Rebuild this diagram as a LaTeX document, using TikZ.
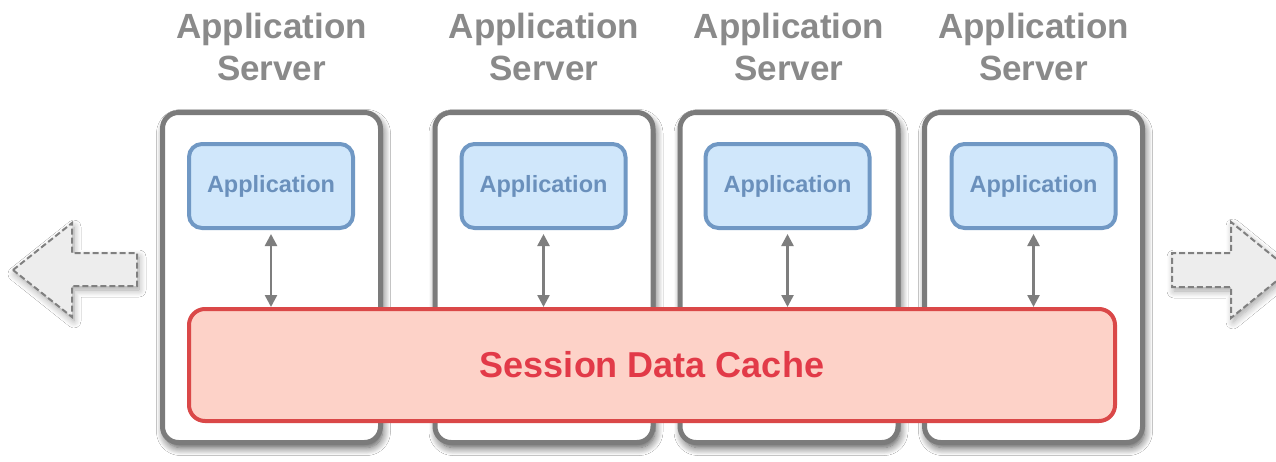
\documentclass[tikz,border=0pt]{standalone}
\usepackage{fontspec}
\setmainfont{Liberation Sans}
\usetikzlibrary{arrows.meta,shadows.blur}
\definecolor{srvline}{HTML}{7B7B7B}
\definecolor{lbl}{HTML}{8A8A8A}
\definecolor{appfill}{HTML}{D0E7FB}
\definecolor{appline}{HTML}{7098C4}
\definecolor{apptext}{HTML}{6A90BC}
\definecolor{cachefill}{HTML}{FDD2C8}
\definecolor{cacheline}{HTML}{DA4848}
\definecolor{cachetext}{HTML}{E23A48}
\definecolor{arrfill}{HTML}{EDEDED}
\definecolor{arrline}{HTML}{808080}
\definecolor{conn}{HTML}{7E7E7E}
\tikzset{
  server/.style={draw=srvline, line width=5pt, fill=white, rounded corners=16pt,
    minimum width=218pt, minimum height=330pt, inner sep=0pt,
    blur shadow={shadow xshift=2pt, shadow yshift=-5pt, shadow blur radius=8pt, shadow blur steps=10, shadow opacity=70}},
  srvlabel/.style={text=lbl, font=\fontsize{35}{42}\selectfont\bfseries, align=center},
  appbox/.style={draw=appline, line width=4pt, fill=appfill, rounded corners=13pt,
    minimum width=164pt, minimum height=84pt, inner sep=0pt, text=apptext,
    font=\fontsize{23.5}{28}\selectfont\bfseries},
  cachebox/.style={draw=cacheline, line width=4pt, fill=cachefill, rounded corners=16pt,
    minimum width=926pt, minimum height=112pt, inner sep=0pt, text=cachetext,
    font=\fontsize{36}{42}\selectfont\bfseries},
  link/.style={draw=conn, line width=2.5pt, {Triangle[width=12pt,length=12pt]}-{Triangle[width=12pt,length=12pt]}},
  bigarrow/.style={draw=arrline, line width=2pt, dash pattern=on 6pt off 3pt, fill=arrfill,
    blur shadow={shadow xshift=2pt, shadow yshift=-4pt, shadow blur radius=7pt, shadow blur steps=8, shadow opacity=35}},
}
\begin{document}
\begin{tikzpicture}[x=1pt,y=-1pt]
\useasboundingbox (0,0) rectangle (1276,461);
\clip (0,0) rectangle (1276,461);
\fill[white] (0,0) rectangle (1276,461);

% side arrows
\path[bigarrow] (13,270) -- (72,223) -- (72,253) -- (137,253) -- (137,286) -- (72,286) -- (72,317) -- cycle;
\path[bigarrow] (1290,270) -- (1231,222) -- (1231,253) -- (1172,253) -- (1172,287) -- (1231,287) -- (1231,318) -- cycle;

% server boxes
\node[server] (s1) at (271.5,277.5) {};
\node[server] (s2) at (544,277.5) {};
\node[server] (s3) at (789,277.5) {};
\node[server] (s4) at (1033.5,277.5) {};

% labels
\node[srvlabel] (l1) at (271.5,47) {Application\\Server};
\node[srvlabel] (l2) at (544,47) {Application\\Server};
\node[srvlabel] (l3) at (789,47) {Application\\Server};
\node[srvlabel] (l4) at (1033.5,47) {Application\\Server};

% applications
\node[appbox] (a1) at (271,186) {Application};
\node[appbox] (a2) at (543.5,186) {Application};
\node[appbox] (a3) at (787.5,186) {Application};
\node[appbox] (a4) at (1033.5,186) {Application};

% cache
\node[cachebox] (c) at (652,365) {Session Data Cache};

% links
\draw[link, shorten <=4pt] (a1.south) -- (a1.south |- c.north);
\draw[link, shorten <=4pt] (a2.south) -- (a2.south |- c.north);
\draw[link, shorten <=4pt] (a3.south) -- (a3.south |- c.north);
\draw[link, shorten <=4pt] (a4.south) -- (a4.south |- c.north);
\end{tikzpicture}
\end{document}
